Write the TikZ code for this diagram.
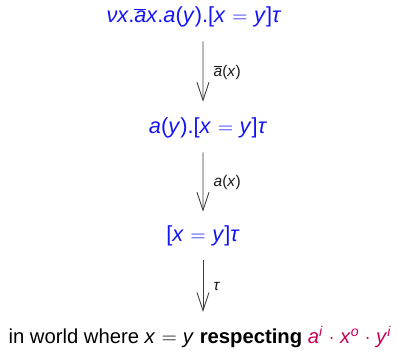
\documentclass[tikz,border=0pt]{standalone}
\usepackage{fontspec}
\setmainfont{Liberation Sans}
\usepackage{tikz}
\usepackage{xcolor}
\usetikzlibrary{arrows.meta, positioning}
\definecolor{pblue} {RGB}{20,20,245}
\definecolor{agray} {RGB}{60,60,60}
\definecolor{lblack}{RGB}{25,25,25}
\definecolor{mcrim} {RGB}{200,0,85}
\newcommand{\vi}[1]{\textit{#1}}
\newcommand{\cobar}[1]{$\overline{\hbox{\textit{#1}}}$}
\newcommand{\eqs}{\kern0.3em$=$\kern0.3em}
\newcommand{\supi}[1]{$^{\hbox{\fontsize{10}{10}\selectfont\textit{#1}}}$}

\begin{document}
\begin{tikzpicture}[x=0.25mm, y=-0.25mm]
  \useasboundingbox (0,0) rectangle (398,350);
  \tikzset{
    procnode/.style={text=pblue, font=\fontsize{15.5}{18}\selectfont, inner sep=0pt},
    steparrow/.style={draw=agray, line width=0.6pt,
                      -{Straight Barb[length=4.5mm, width=3mm]}},
    actlabel/.style={font=\fontsize{11}{13}\selectfont, text=lblack, right=4pt}
  }
  \node[procnode] (proc0) at (194,17)
    {\vi{ν}\vi{x}.\cobar{a}\vi{x}.\vi{a}(\vi{y}).[\vi{x}\eqs\vi{y}]\vi{τ}};
  \node[procnode] (proc1) at (208,128)
    {\vi{a}(\vi{y}).[\vi{x}\eqs\vi{y}]\vi{τ}};
  \node[procnode] (proc2) at (203,236)
    {[\vi{x}\eqs\vi{y}]\vi{τ}};
  \node[font=\fontsize{14.4}{17}\selectfont, inner sep=0pt] (world) at (200,337)
    {in world where \vi{x}\eqs\vi{y} \textbf{respecting}
     \textcolor{mcrim}{\vi{a}\supi{i} $\cdot$ \vi{x}\supi{o} $\cdot$ \vi{y}\supi{i}}};

  \draw[steparrow, shorten <=3.5mm, shorten >=4mm] ([xshift=2.25mm]proc0.south) -- ([xshift=-1.25mm]proc1.north)
    node[midway, actlabel] {\cobar{a}(\vi{x})};
  \draw[steparrow, shorten <=3.5mm, shorten >=3.5mm] ([xshift=-1.25mm]proc1.south) -- (proc2)
    node[midway, actlabel] {\vi{a}(\vi{x})};
  \draw[steparrow, shorten <=3.5mm, shorten >=3.5mm] (proc2) -- (proc2 |- world.north)
    node[midway, actlabel] {\vi{τ}};
\end{tikzpicture}
\end{document}
